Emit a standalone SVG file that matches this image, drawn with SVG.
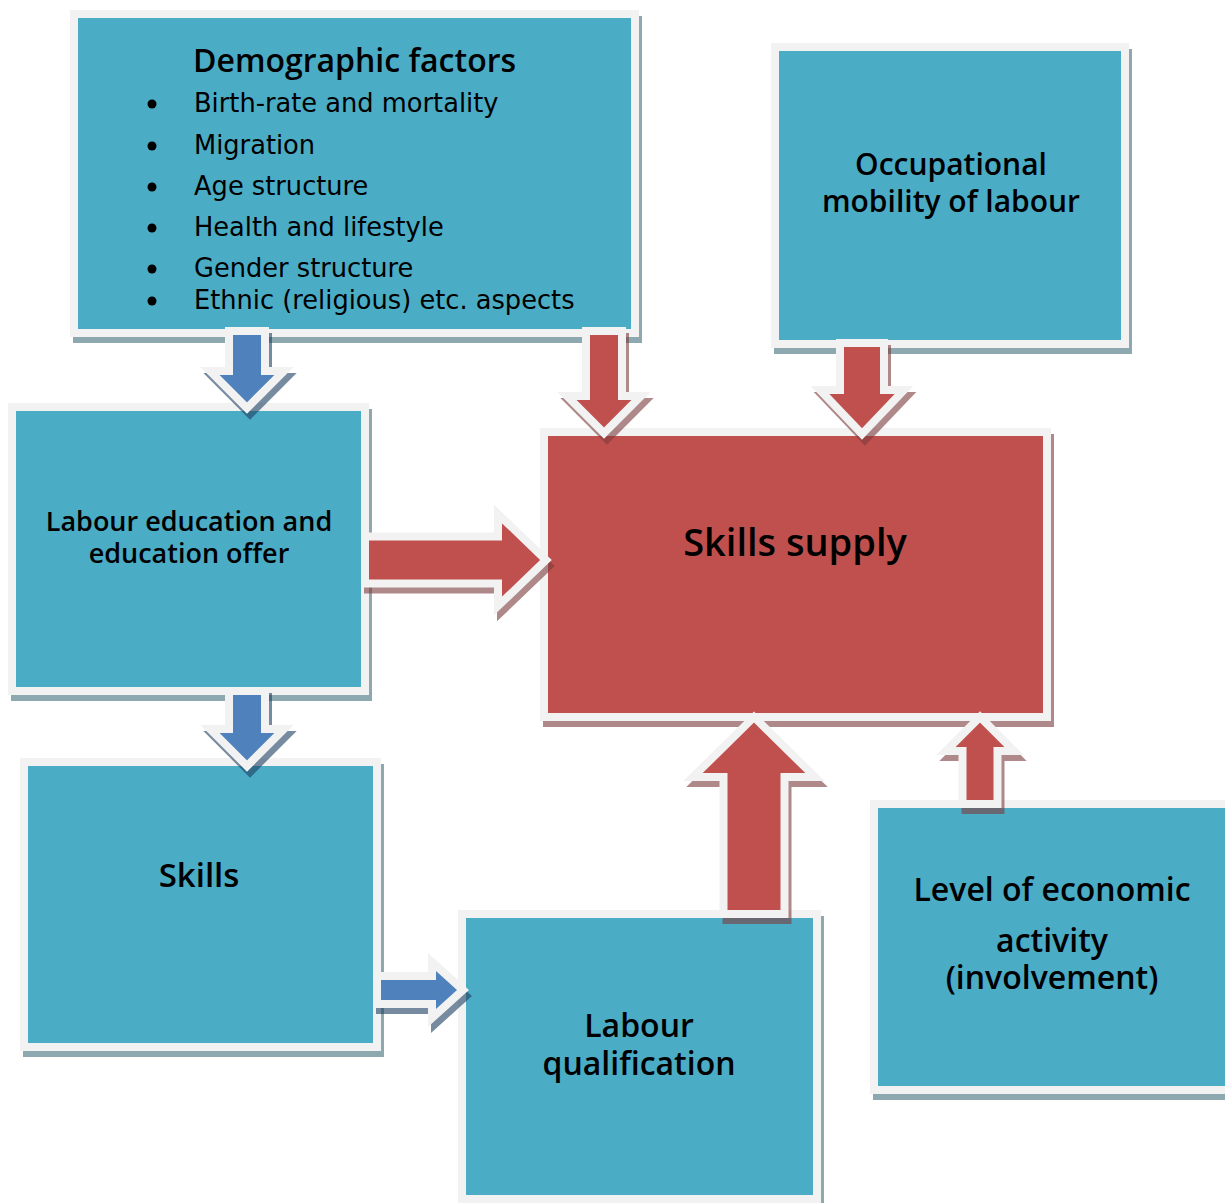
<svg xmlns="http://www.w3.org/2000/svg" width="1225" height="1203" viewBox="0 0 1225 1203">
  <style>
    .box { fill: #4bacc6; stroke: #f2f2f2; stroke-width: 8; }
    .hub { fill: #c0504d; stroke: #f2f2f2; stroke-width: 8; }
    .shadow-b { fill: #43717b; stroke: #43717b; stroke-width: 8; }
    .shadow-r { fill: #7b3c3c; stroke: #7b3c3c; stroke-width: 8; }
    .shadow-a { fill: #1d3f62; stroke: #1d3f62; stroke-width: 8; }
    .shade { opacity: 0.6; }
    .arr-r { fill: #c0504d; stroke: #f2f2f2; stroke-width: 8; stroke-linejoin: miter; stroke-miterlimit: 10; }
    .arr-b { fill: #4f81bd; stroke: #f2f2f2; stroke-width: 8; stroke-linejoin: miter; stroke-miterlimit: 10; }
    .title { font-family: "Open Sans", "DejaVu Sans", sans-serif; font-weight: 600; fill: #000; }
    .item { font-family: "DejaVu Sans", "Liberation Sans", sans-serif; font-size: 25.7px; fill: #000; }
    .mid { text-anchor: middle; }
  </style>

  <!-- nodes -->
  <g id="demographic">
    <g class="shade"><rect class="shadow-b" x="77" y="20" width="561" height="319"/></g>
    <rect class="box" x="74" y="14" width="561" height="319"/>
    <text class="title" x="193" y="72" font-size="32">Demographic factors</text>
    <g fill="#000">
      <circle cx="152" cy="104" r="4.5"/>
      <circle cx="152" cy="146" r="4.5"/>
      <circle cx="152" cy="187" r="4.5"/>
      <circle cx="152" cy="228" r="4.5"/>
      <circle cx="152" cy="269" r="4.5"/>
      <circle cx="152" cy="301" r="4.5"/>
    </g>
    <text class="item" x="194" y="112">Birth-rate and mortality</text>
    <text class="item" x="194" y="154">Migration</text>
    <text class="item" x="194" y="195">Age structure</text>
    <text class="item" x="194" y="236">Health and lifestyle</text>
    <text class="item" x="194" y="277">Gender structure</text>
    <text class="item" x="194" y="309">Ethnic (religious) etc. aspects</text>
  </g>

  <g id="occupational">
    <g class="shade"><rect class="shadow-b" x="778" y="53" width="350" height="297"/></g>
    <rect class="box" x="775" y="47" width="350" height="297"/>
    <text class="title mid" x="951" y="175" font-size="30">Occupational</text>
    <text class="title mid" x="951" y="212" font-size="30">mobility of labour</text>
  </g>

  <g id="education">
    <g class="shade"><rect class="shadow-b" x="15" y="413" width="353" height="284"/></g>
    <rect class="box" x="12" y="407" width="353" height="284"/>
    <text class="title mid" x="189" y="531" font-size="27">Labour education and</text>
    <text class="title mid" x="189" y="563" font-size="27">education offer</text>
  </g>

  <g id="skills-supply">
    <g class="shade"><rect class="shadow-r" x="547" y="438" width="503" height="285"/></g>
    <rect class="hub" x="544" y="432" width="503" height="285"/>
    <text class="title mid" x="795" y="556" font-size="38">Skills supply</text>
  </g>

  <g id="skills">
    <g class="shade"><rect class="shadow-b" x="27" y="768" width="353" height="285"/></g>
    <rect class="box" x="24" y="762" width="353" height="285"/>
    <text class="title mid" x="199" y="887" font-size="33">Skills</text>
  </g>

  <g id="qualification">
    <g class="shade"><rect class="shadow-b" x="465" y="920" width="355" height="285"/></g>
    <rect class="box" x="462" y="914" width="355" height="285"/>
    <text class="title mid" x="639" y="1037" font-size="32">Labour</text>
    <text class="title mid" x="639" y="1075" font-size="32">qualification</text>
  </g>

  <g id="economic-activity">
    <g class="shade"><rect class="shadow-b" x="877" y="810" width="360" height="286"/></g>
    <rect class="box" x="874" y="804" width="360" height="286"/>
    <text class="title mid" x="1052" y="901" font-size="32">Level of economic</text>
    <text class="title mid" x="1052" y="952" font-size="32">activity</text>
    <text class="title mid" x="1052" y="989" font-size="32">(involvement)</text>
  </g>

  <!-- connectors: block arrows, each with its drop shadow -->
  <g id="connectors">
    <!-- demographic -> education -->
    <g class="shade" transform="translate(3,6)"><polygon class="shadow-a" points="229,331 265,331 265,371 284,371 247,408 210,371 229,371"/></g>
    <polygon class="arr-b" points="229,331 265,331 265,371 284,371 247,408 210,371 229,371"/>

    <!-- demographic -> skills supply -->
    <g class="shade" transform="translate(3,6)"><polygon class="shadow-r" points="586,331 622,331 622,396 641,396 604,433 567,396 586,396"/></g>
    <polygon class="arr-r" points="586,331 622,331 622,396 641,396 604,433 567,396 586,396"/>

    <!-- occupational mobility -> skills supply -->
    <g class="shade" transform="translate(3,6)"><polygon class="shadow-r" points="840,343 884,343 884,390 904,390 862,434 820,390 840,390"/></g>
    <polygon class="arr-r" points="840,343 884,343 884,390 904,390 862,434 820,390 840,390"/>

    <!-- education -> skills supply -->
    <g class="shade" transform="translate(3,6)"><polygon class="shadow-r" points="365,536.5 498,536.5 498,514 546,560 498,606 498,583.5 365,583.5"/></g>
    <polygon class="arr-r" points="365,536.5 498,536.5 498,514 546,560 498,606 498,583.5 365,583.5"/>

    <!-- education -> skills -->
    <g class="shade" transform="translate(3,6)"><polygon class="shadow-a" points="229,691 265,691 265,729 284,729 247,766 210,729 229,729"/></g>
    <polygon class="arr-b" points="229,691 265,691 265,729 284,729 247,766 210,729 229,729"/>

    <!-- skills -> qualification -->
    <g class="shade" transform="translate(3,6)"><polygon class="shadow-a" points="377,976 432,976 432,962 463,990 432,1018 432,1004 377,1004"/></g>
    <polygon class="arr-b" points="377,976 432,976 432,962 463,990 432,1018 432,1004 377,1004"/>

    <!-- qualification -> skills supply -->
    <g class="shade" transform="translate(3,6)"><polygon class="shadow-r" points="723.5,914 784.5,914 784.5,777 815,777 754,717 693,777 723.5,777"/></g>
    <polygon class="arr-r" points="723.5,914 784.5,914 784.5,777 815,777 754,717 693,777 723.5,777"/>

    <!-- economic activity -> skills supply -->
    <g class="shade" transform="translate(3,6)"><polygon class="shadow-r" points="962.5,804 997.5,804 997.5,751 1014,751 980,717 946,751 962.5,751"/></g>
    <polygon class="arr-r" points="962.5,804 997.5,804 997.5,751 1014,751 980,717 946,751 962.5,751"/>
  </g>
</svg>
